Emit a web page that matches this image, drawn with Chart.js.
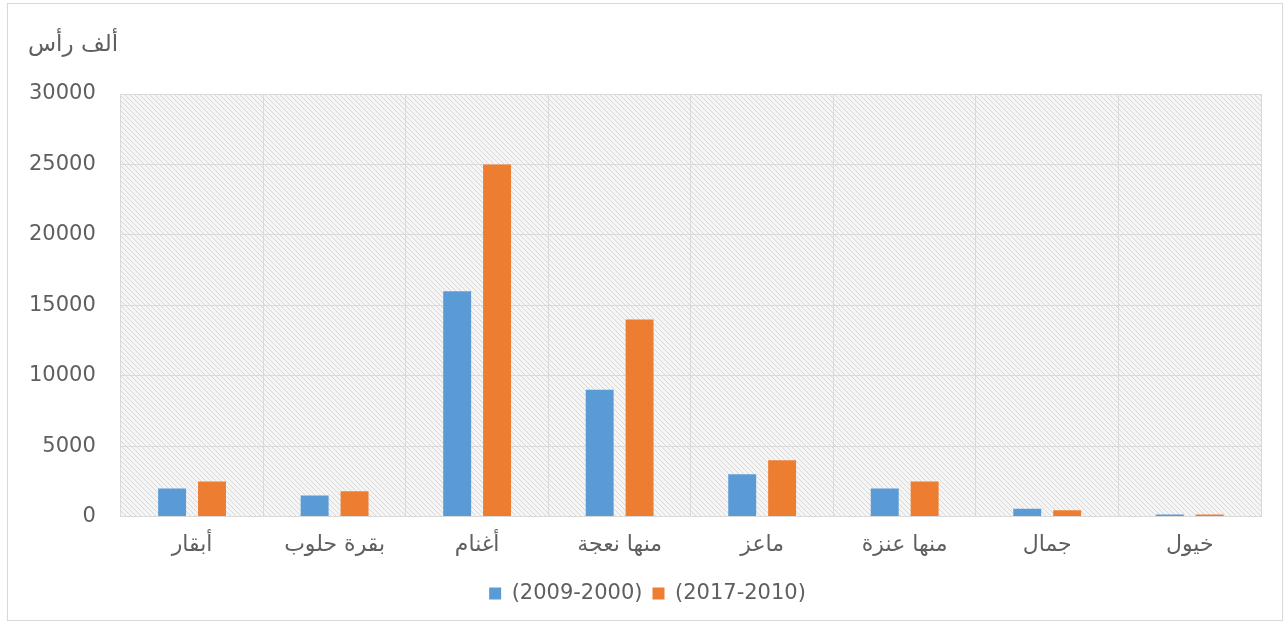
<!DOCTYPE html>
<html>
<head>
<meta charset="utf-8">
<script src="https://cdn.jsdelivr.net/npm/chart.js@4"></script>
<style>
  body { margin: 0; background: #fff; }
</style>
</head>
<body>
<canvas id="chart" width="1288" height="624"></canvas>
<script>
// chart values
const categories = ["أبقار", "بقرة حلوب", "أغنام", "منها نعجة", "ماعز", "منها عنزة", "جمال", "خيول"];
const seriesNames = ["(2009-2000)", "(2017-2010)"];
const period1 = [2000, 1500, 16000, 9000, 3000, 2000, 550, 150];
const period2 = [2500, 1800, 25000, 14000, 4000, 2500, 450, 150];
const yTicks = [0, 5000, 10000, 15000, 20000, 25000, 30000];
const yUnit = "ألف رأس";

const FONT = "'DejaVu Sans', sans-serif";
const TEXT = "#5f5f5f";

// diagonal hatch used behind the bars
function makeHatch() {
    const c = document.createElement("canvas");
    c.width = 5; c.height = 5;
    const g = c.getContext("2d");
    g.fillStyle = "#f5f5f5";
    g.fillRect(0, 0, 5, 5);
    g.strokeStyle = "#d8d8d8";
    g.lineWidth = 1;
    g.beginPath();
    g.moveTo(-1, -1); g.lineTo(6, 6);
    g.moveTo(-1, 4); g.lineTo(1, 6);
    g.moveTo(4, -1); g.lineTo(6, 1);
    g.stroke();
    return g.createPattern(c, "repeat");
}

const decor = {
    id: "decor",
    afterLayout(chart) {
        // legend sits a little right of the canvas centre in the original
        if (chart.legend) chart.legend.left += 30;
    },
    beforeDraw(chart) {
        const { ctx, chartArea: a } = chart;
        ctx.save();
        ctx.fillStyle = makeHatch();
        ctx.fillRect(a.left, a.top, a.right - a.left, a.bottom - a.top);
        ctx.strokeStyle = "#d9d9d9";
        ctx.lineWidth = 1;
        ctx.strokeRect(7.5, 3.5, chart.width - 13, chart.height - 7);
        // unit label above the value axis
        ctx.fillStyle = TEXT;
        ctx.font = "23px " + FONT;
        ctx.textAlign = "left";
        ctx.textBaseline = "middle";
        ctx.fillText(yUnit, 28, 45);
        ctx.restore();
    }
};

new Chart(document.getElementById("chart").getContext("2d"), {
    type: "bar",
    data: {
        labels: categories,
        datasets: [
            { label: seriesNames[0], data: period1, backgroundColor: "#5b9bd5" },
            { label: seriesNames[1], data: period2, backgroundColor: "#ed7d31" }
        ]
    },
    options: {
        responsive: false,
        animation: false,
        categoryPercentage: 0.56,
        barPercentage: 0.7,
        layout: { padding: { top: 94, left: 4, right: 27, bottom: 10 } },
        plugins: {
            legend: {
                position: "bottom",
                labels: {
                    color: TEXT,
                    font: { family: FONT, size: 21 },
                    boxWidth: 12,
                    boxHeight: 12,
                    padding: 10
                }
            },
            tooltip: { enabled: false }
        },
        scales: {
            x: {
                grid: { color: "#d9d9d9", drawTicks: false, offset: true },
                border: { color: "#d9d9d9" },
                ticks: { color: TEXT, font: { family: FONT, size: 22 }, padding: 15 }
            },
            y: {
                min: 0,
                max: 30000,
                afterBuildTicks(axis) { axis.ticks = yTicks.map(v => ({ value: v })); },
                grid: { color: "#d9d9d9", drawTicks: false },
                border: { display: false },
                ticks: {
                    color: TEXT,
                    font: { family: FONT, size: 21 },
                    padding: 25,
                    callback: v => String(v)
                }
            }
        }
    },
    plugins: [decor]
});
</script>
</body>
</html>
